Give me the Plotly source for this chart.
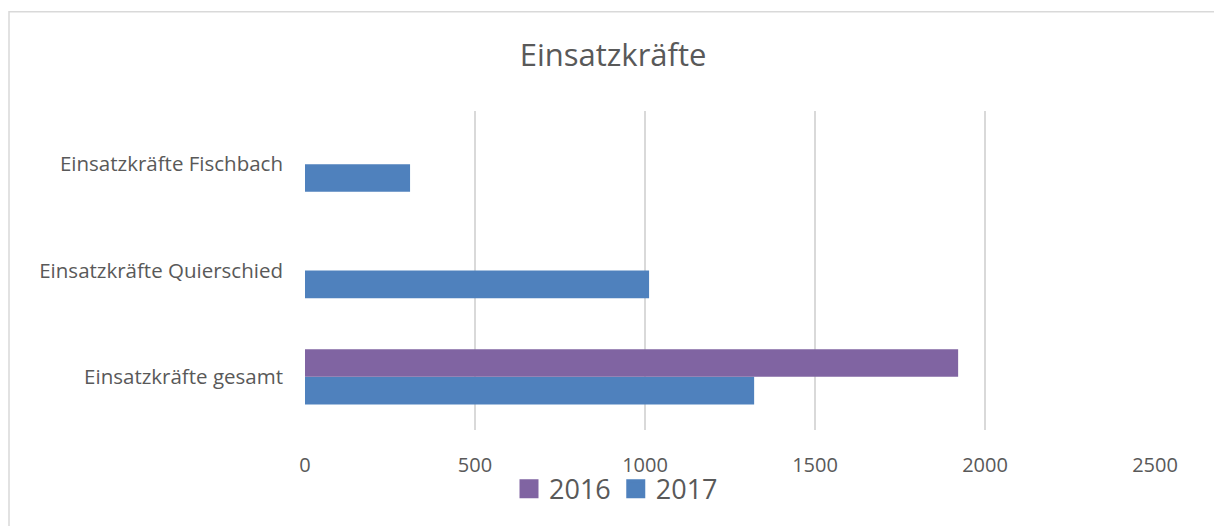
import plotly.graph_objects as go

categories = ["Einsatzkräfte gesamt", "Einsatzkräfte Quierschied", "Einsatzkräfte Fischbach"]
values_2016 = [1921, None, None]
values_2017 = [1321, 1012, 309]
x_ticks = [0, 500, 1000, 1500, 2000, 2500]

FONT = "Open Sans"
TXT = "#595959"
C16, C17 = "#8064A2", "#4F81BD"

fig = go.Figure()
fig.add_trace(go.Bar(y=categories, x=values_2017, name="2017", orientation="h", showlegend=False,
                     marker=dict(color=C17, line=dict(width=0))))
fig.add_trace(go.Bar(y=categories, x=values_2016, name="2016", orientation="h", showlegend=False,
                     marker=dict(color=C16, line=dict(width=0))))
# legend entries
fig.add_trace(go.Scatter(x=[None], y=[None], mode="markers", name="2016",
                         marker=dict(symbol="square", size=16, color=C16, line=dict(color=C16, width=3))))
fig.add_trace(go.Scatter(x=[None], y=[None], mode="markers", name="2017",
                         marker=dict(symbol="square", size=16, color=C17, line=dict(color=C17, width=3))))

W, H = 1214, 526
L, R, T, B = 305, 59, 111, 92
pw, ph = W - L - R, H - T - B

fig.update_layout(
    width=W, height=H,
    margin=dict(l=L, r=R, t=T, b=B),
    paper_bgcolor="white", plot_bgcolor="white",
    barmode="group", bargap=0.48, bargroupgap=0,
    font=dict(family=FONT, color=TXT),
    title=dict(text="Einsatzkräfte", x=0.505, xanchor="center", y=1 - 55 / H, yanchor="middle",
               yref="container", font=dict(family=FONT, size=31, color=TXT)),
    xaxis=dict(range=[0, 2500], tickvals=x_ticks, showgrid=True, gridcolor="#d9d9d9", gridwidth=1.5,
               zeroline=False, showline=False, ticks="", ticklabelstandoff=21,
               tickfont=dict(family=FONT, size=20, color=TXT)),
    yaxis=dict(categoryorder="array", categoryarray=categories, showgrid=False, zeroline=False,
               showline=False, ticks="", ticklabelstandoff=21,
               tickfont=dict(family=FONT, size=20.5, color=TXT)),
    legend=dict(orientation="h", x=(616 - L) / pw, xanchor="center", y=(H - B - 494) / ph, yanchor="middle",
                traceorder="normal", font=dict(family=FONT, size=27, color=TXT),
                itemsizing="trace", bgcolor="rgba(0,0,0,0)"),
    showlegend=True,
)

fig.add_shape(type="rect", xref="paper", yref="paper",
              x0=(9 - L) / pw, x1=(1230 - L) / pw,
              y0=(H - B - 540) / ph, y1=(H - B - 10.5) / ph,
              line=dict(color="#d9d9d9", width=1.5), fillcolor="rgba(0,0,0,0)", layer="below")

fig.write_html("out.html", config={"displayModeBar": False},
               post_script="document.body.style.margin='0';document.body.style.overflow='hidden';")
